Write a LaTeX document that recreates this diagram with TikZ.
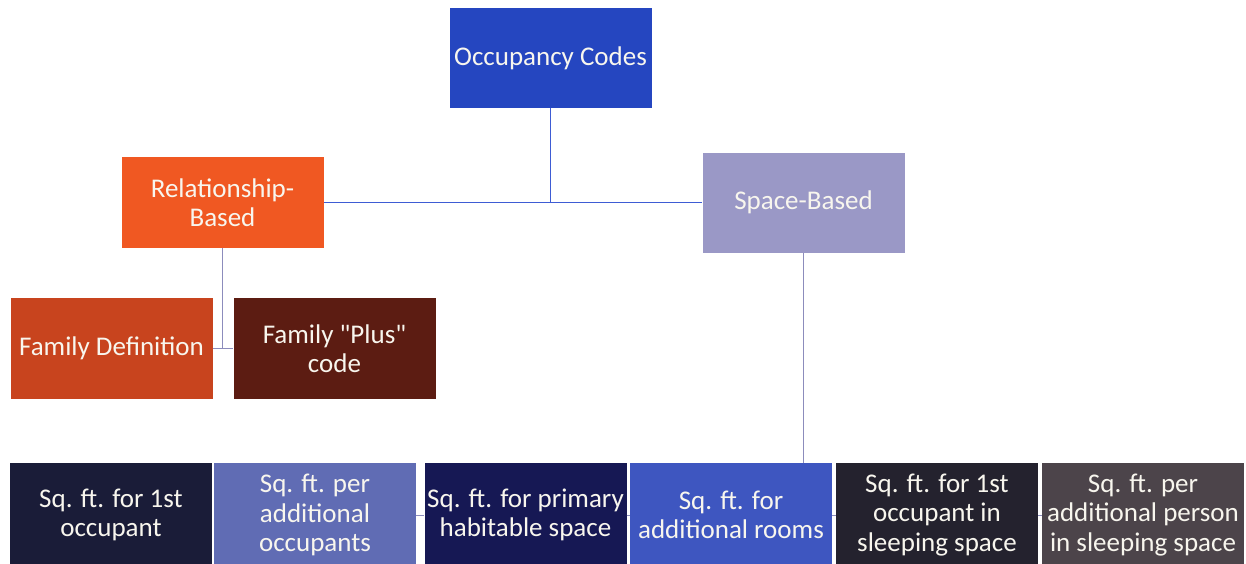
\documentclass[tikz,border=0pt]{standalone}
\usepackage{fontspec}
\setmainfont{Carlito}
\usepackage{xcolor}
\usetikzlibrary{calc}

% box colours
\definecolor{occblue}{RGB}{37,70,192}
\definecolor{relorange}{RGB}{240,88,34}
\definecolor{spacegrey}{RGB}{154,152,198}
\definecolor{famred}{RGB}{200,68,30}
\definecolor{fambrown}{RGB}{92,28,18}
\definecolor{sqnavy}{RGB}{26,28,56}
\definecolor{sqlight}{RGB}{96,108,180}
\definecolor{sqdeep}{RGB}{22,24,84}
\definecolor{sqblue}{RGB}{62,86,192}
\definecolor{sqdark}{RGB}{36,34,46}
\definecolor{sqtaupe}{RGB}{76,68,74}
\definecolor{topline}{RGB}{62,92,212}
\definecolor{subline}{RGB}{140,140,188}
\definecolor{boxtext}{RGB}{248,246,238}

\begin{document}
\begin{tikzpicture}[x=1pt,y=-1pt,
    box/.style={rectangle, inner sep=0pt, align=center, text=boxtext,
        font=\fontsize{27}{29.5}\selectfont,
        minimum width=202pt, minimum height=100pt},
    sqbox/.style={box, minimum height=104pt}]

        \useasboundingbox (0,0) rectangle (1246,563);

        % Top of the tree
        \node[box, fill=occblue] (occ) at (550.5,58) {Occupancy Codes};

        % Second level
        \node[box, fill=relorange, minimum height=91pt] (rel) at (222.5,202.5) {Relationship-\\Based};
        \node[box, fill=spacegrey] (space) at (803.5,202.5) {Space-Based};

        % Relationship-based codes
        \node[box, fill=famred, minimum height=101pt] (famdef) at (111.5,348.5) {Family Definition};
        \node[box, fill=fambrown, minimum height=101pt] (famplus) at (334.5,348.5) {Family \textquotedbl Plus\textquotedbl\\code};

        % Space-based codes (row runs off the bottom edge)
        \begin{scope}
        \clip (0,0) rectangle (1246,563);
        \node[sqbox, fill=sqnavy] (sqa) at (111,515) {Sq. ft. for 1st\\occupant};
        \node[sqbox, fill=sqlight] (sqb) at (315,515) {Sq. ft. per\\additional\\occupants};
        \node[sqbox, fill=sqdeep] (sqc) at (525.5,515) {Sq. ft. for primary\\habitable space};
        \node[sqbox, fill=sqblue] (sqd) at (731,515) {Sq. ft. for\\additional rooms};
        \node[sqbox, fill=sqdark] (sqe) at (937,515) {Sq. ft. for 1st\\occupant in\\sleeping space};
        \node[sqbox, fill=sqtaupe] (sqf) at (1143,515) {Sq. ft. per\\additional person\\in sleeping space};
        \end{scope}

        % Connectors
        \draw[topline, line width=1.2pt] (occ.south) |- (rel.east);
        \draw[topline, line width=1.2pt] (occ.south) |- (space.west);
        \draw[subline, line width=0.8pt] (rel.south) -- (rel.south |- famdef.east);
        \draw[subline, line width=0.8pt] (famdef.east) -- (famplus.west);
        \draw[subline, line width=0.8pt] (space.south) -- (space.south |- sqd.north);
        \draw[subline, line width=0.8pt] (sqb.east) -- (sqc.west);
        \draw[subline, line width=0.8pt] (sqc.east) -- (sqd.west);
        \draw[subline, line width=0.8pt] (sqd.east) -- (sqe.west);
        \draw[subline, line width=0.8pt] (sqe.east) -- (sqf.west);
    \end{tikzpicture}
\end{document}
